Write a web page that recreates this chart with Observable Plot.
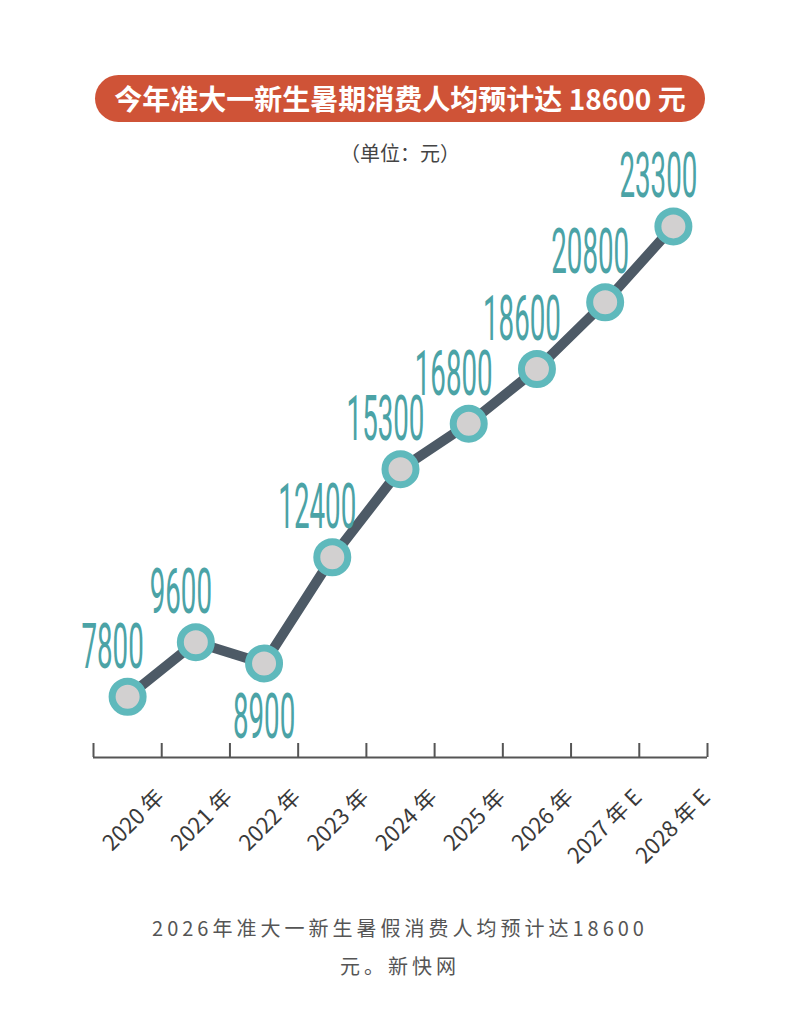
<!DOCTYPE html>
<html><head><meta charset="utf-8">
<script src="https://cdn.jsdelivr.net/npm/d3@7"></script>
<script src="https://cdn.jsdelivr.net/npm/@observablehq/plot@0.6"></script>
<style>
body{margin:0;background:#fff;font-family:"Noto Sans CJK SC","Noto Sans",sans-serif;}
#wrap{position:relative;width:800px;height:1021px;overflow:hidden;}
#title{position:absolute;left:95px;top:75px;width:610px;height:47px;border-radius:24px;background:#cf5337;color:#fff;font-weight:700;font-size:28px;line-height:47px;text-align:center;white-space:nowrap;}
#unit{position:absolute;left:0;top:139px;width:800px;text-align:center;font-size:20px;color:#444;line-height:28px;}
#chart{position:absolute;left:0;top:130px;}
#caption{position:absolute;left:0;top:909px;width:800px;text-align:center;font-size:20px;line-height:38px;color:#555;letter-spacing:4px;}
</style></head>
<body>
<div id="wrap">
  <div id="title">今年准大一新生暑期消费人均预计达 18600 元</div>
  <div id="chart"></div>
  <div id="unit">（单位：元）</div>
  <div id="caption">2026年准大一新生暑假消费人均预计达18600<br>元。新快网</div>
</div>
<script>
const years = ["2020 年","2021 年","2022 年","2023 年","2024 年","2025 年","2026 年","2027 年 E","2028 年 E"];
const values = [7800, 9600, 8900, 12400, 15300, 16800, 18600, 20800, 23300];
const yDomain = [5800, 25800];

const data = values.map((v, i) => ({
  i, v,
  below: i > 0 && i < values.length - 1 && v < values[i - 1] && v < values[i + 1]
}));
const edges = d3.range(years.length + 1).map(k => k - 0.5);

const teal = "#4ba3a6";
const chart = Plot.plot({
  width: 800,
  height: 750,
  marginLeft: 93,
  marginRight: 93,
  marginTop: 20,
  marginBottom: 123,
  x: {domain: [-0.5, years.length - 0.5], axis: null},
  y: {domain: yDomain, axis: null},
  style: {fontFamily: "'Noto Sans CJK SC', 'Noto Sans', sans-serif", background: "transparent"},
  marks: [
    Plot.ruleY([yDomain[0]], {stroke: "#555", strokeWidth: 2}),
    Plot.ruleX(edges, {x: d => d, stroke: "#555", strokeWidth: 2, insetTop: 593}),
    Plot.axisX({
      ticks: d3.range(years.length),
      tickFormat: i => years[i],
      tickSize: 0,
      tickPadding: 0,
      tickRotate: -45,
      fontSize: 22,
      fill: "#3a3a3a",
      dx: 33,
      dy: 36,
      label: null
    }),
    Plot.line(data, {x: "i", y: "v", stroke: "#4d5a66", strokeWidth: 10, strokeLinejoin: "round"}),
    Plot.dot(data, {x: "i", y: "v", r: 15.5, fill: "#d2d0d0", stroke: "#5fb9bc", strokeWidth: 7}),
    Plot.text(data.filter(d => !d.below), {
      x: "i", y: "v", text: d => String(d.v),
      dx: -15, dy: -29, lineAnchor: "bottom",
      fontSize: 63, fontWeight: 400, fontFamily: "Roboto", fill: teal,
      textAnchor: "middle"
    }),
    Plot.text(data.filter(d => d.below), {
      x: "i", y: "v", text: d => String(d.v),
      dx: 0, dy: 30, lineAnchor: "top",
      fontSize: 63, fontWeight: 400, fontFamily: "Roboto", fill: teal,
      textAnchor: "middle"
    })
  ]
});
document.getElementById("chart").appendChild(chart);

// condense the value labels horizontally (append a scale to Plot's own translate)
chart.querySelectorAll('g[font-size="63"] text, text[font-size="63"]').forEach(t => {
  const tr = t.getAttribute("transform");
  if (tr && tr.includes("translate")) t.setAttribute("transform", tr + " scale(0.44,1)");
});
</script>
</body></html>
